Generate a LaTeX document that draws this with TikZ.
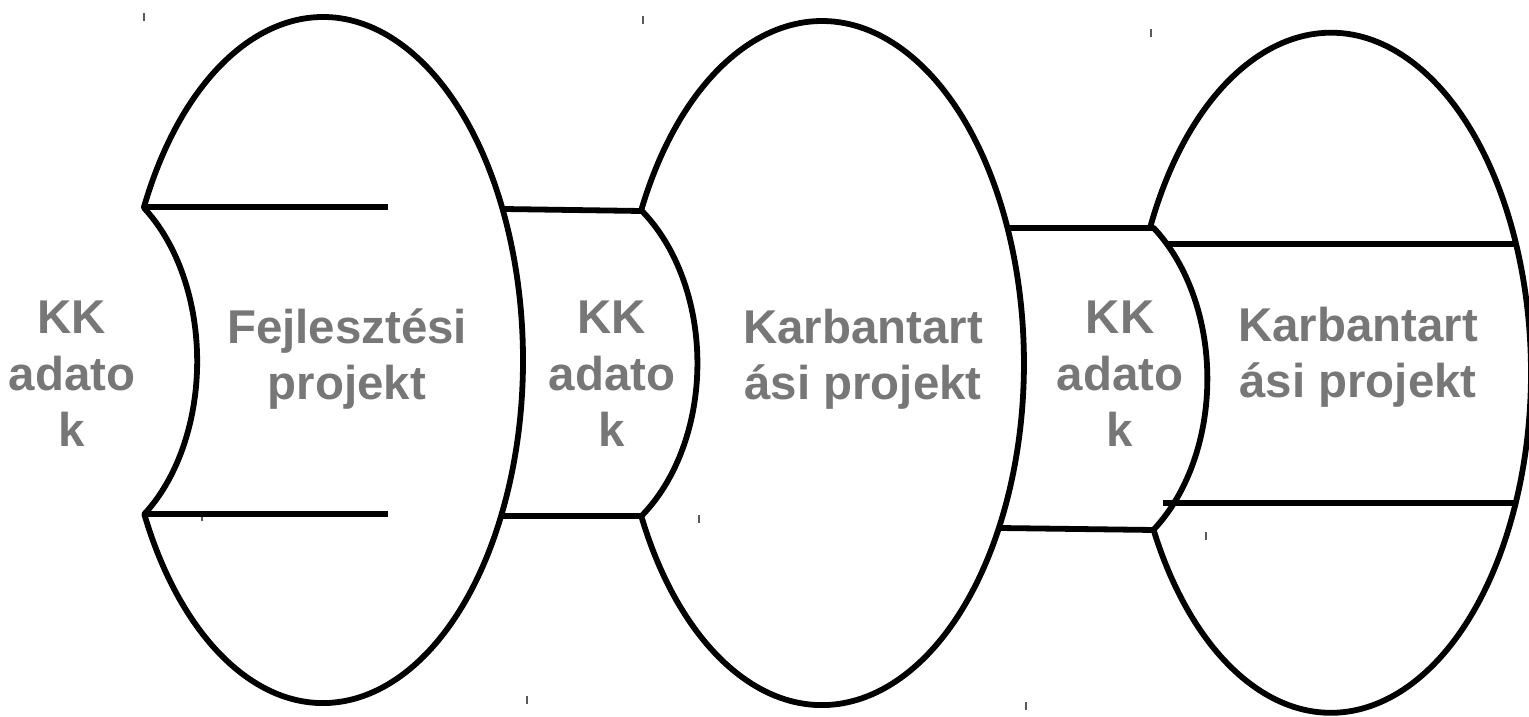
\documentclass[tikz,border=0pt]{standalone}
\usepackage{fontspec}
\setmainfont{Liberation Sans}
\usepackage{tikz}
\usepackage{xcolor}
\definecolor{kkgray}{RGB}{119,119,119}
\definecolor{markgray}{RGB}{90,90,90}
\tikzstyle{shapeline} = [line width=3.3pt, line join=round, color=black]
\tikzstyle{boxtext} = [font=\fontsize{27}{32.3}\selectfont\bfseries, text=kkgray, align=center, anchor=base, inner sep=0pt]
\tikzstyle{cornermark} = [line width=0.6pt, color=markgray]

\begin{document}
\begin{tikzpicture}[x=0.02cm, y=0.02cm]
    \useasboundingbox (0,0) rectangle (1529,717);

    % Small corner marks
    \foreach \mx/\my in {144/700, 643/697, 1151/684, 202/200, 699/198, 1206/181, 527/17, 1026/11}
        \draw[cornermark] (\mx,\my+4) -- (\mx,\my-4);

    % Project shapes (ellipse cut by the data arc)
    \draw[shapeline] (144,510) arc[start angle=153.5, end angle=-153.3, x radius=200, y radius=343]
        arc[start angle=-53.6, end angle=53.6, x radius=130, y radius=190] -- cycle;
    \draw[shapeline] (641,506) arc[start angle=153.6, end angle=-153.4, x radius=202, y radius=342]
        arc[start angle=-53.6, end angle=53.6, x radius=138, y radius=190] -- cycle;
    \draw[shapeline] (1150,489) arc[start angle=154.8, end angle=-152.5, x radius=200, y radius=340]
        arc[start angle=-52.6, end angle=52.6, x radius=137, y radius=190] -- cycle;

    % Bands between the projects
    \coordinate (b1tl) at (503,508);
    \coordinate (b1tr) at (641,506);
    \coordinate (b1bl) at (501,201);
    \coordinate (b1br) at (641,201);
    \coordinate (b2tl) at (1008,489);
    \coordinate (b2tr) at (1150,489);
    \coordinate (b2bl) at (999,189);
    \coordinate (b2br) at (1154,187);
    \draw[shapeline] (b1tl) -- (b1tr);
    \draw[shapeline] (b1bl) -- (b1br);
    \draw[shapeline] (b2tl) -- (b2tr);
    \draw[shapeline] (b2bl) -- (b2br);

    % Inner lines
    \draw[shapeline] (144,510) -- (388,510);
    \draw[shapeline] (144,203) -- (388,203);
    \draw[shapeline] (1165,473) -- (1516,473);
    \draw[shapeline] (1163,214) -- (1516,214);

    % Labels
    \node[boxtext] (kk1) at (72,270) {KK\\adato\\k};
    \node[boxtext] (fejl) at (347,317) {Fejlesztési\\projekt};
    \node[boxtext] (kk2) at (612,270) {KK\\adato\\k};
    \node[boxtext] (karb1) at (863,317) {Karbantart\\ási projekt};
    \node[boxtext] (kk3) at (1120,270) {KK\\adato\\k};
    \node[boxtext] (karb2) at (1358,319) {Karbantart\\ási projekt};
\end{tikzpicture}
\end{document}
